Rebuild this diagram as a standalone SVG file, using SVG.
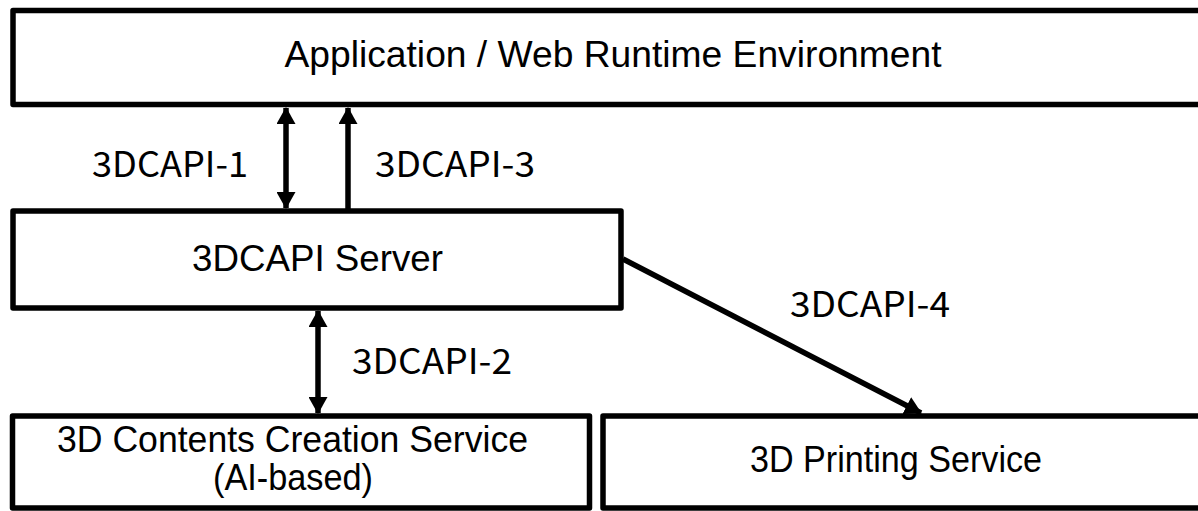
<svg xmlns="http://www.w3.org/2000/svg" width="1198" height="511" viewBox="0 0 1198 511">
<style>
.box{fill:#fff;stroke:#000;stroke-width:5.5;stroke-linejoin:round}
.bt{font-family:"Liberation Sans",Arial,sans-serif;font-size:36px;fill:#000;text-anchor:middle}
.lb{font-family:"Noto Sans CJK KR","Noto Sans",sans-serif;font-size:35px;fill:#000}
.ln{stroke:#000;stroke-width:5.5;fill:none}
</style>
<defs>
<marker id="ah" viewBox="0 0 17 19" refX="16" refY="9.5" markerUnits="userSpaceOnUse" markerWidth="17" markerHeight="19" orient="auto-start-reverse">
<path d="M0,0 L17,9.5 L0,19 Z" fill="#000"/>
</marker>
</defs>
<g id="app">
<rect class="box" x="13" y="10.5" width="1200" height="94"/>
<text class="bt" x="613" y="67" textLength="657" lengthAdjust="spacingAndGlyphs">Application / Web Runtime Environment</text>
</g>
<g id="server">
<rect class="box" x="13" y="211" width="608" height="97"/>
<text class="bt" x="317.5" y="271" textLength="251" lengthAdjust="spacingAndGlyphs">3DCAPI Server</text>
</g>
<g id="creation">
<rect class="box" x="12.5" y="416" width="577" height="92"/>
<text class="bt" x="292.5" y="452" textLength="471" lengthAdjust="spacingAndGlyphs">3D Contents Creation Service</text>
<text class="bt" x="293" y="490" textLength="160" lengthAdjust="spacingAndGlyphs">(AI-based)</text>
</g>
<g id="printing">
<rect class="box" x="603" y="416" width="620" height="92"/>
<text class="bt" x="896" y="472" textLength="292" lengthAdjust="spacingAndGlyphs">3D Printing Service</text>
</g>
<g id="connectors">
<line class="ln" x1="286" y1="108" x2="286" y2="208" marker-start="url(#ah)" marker-end="url(#ah)"/>
<line class="ln" x1="348" y1="108" x2="348" y2="209"  marker-start="url(#ah)"/>
<line class="ln" x1="318" y1="311" x2="318" y2="413" marker-start="url(#ah)" marker-end="url(#ah)"/>
<line class="ln" x1="623" y1="259" x2="921" y2="413" marker-end="url(#ah)"/>
</g>
<g id="labels">
<text class="lb" x="92" y="177" textLength="156" lengthAdjust="spacingAndGlyphs">3DCAPI-1</text>
<text class="lb" x="375" y="177" textLength="160" lengthAdjust="spacingAndGlyphs">3DCAPI-3</text>
<text class="lb" x="790" y="317" textLength="160" lengthAdjust="spacingAndGlyphs">3DCAPI-4</text>
<text class="lb" x="352" y="374" textLength="160" lengthAdjust="spacingAndGlyphs">3DCAPI-2</text>
</g>
</svg>
